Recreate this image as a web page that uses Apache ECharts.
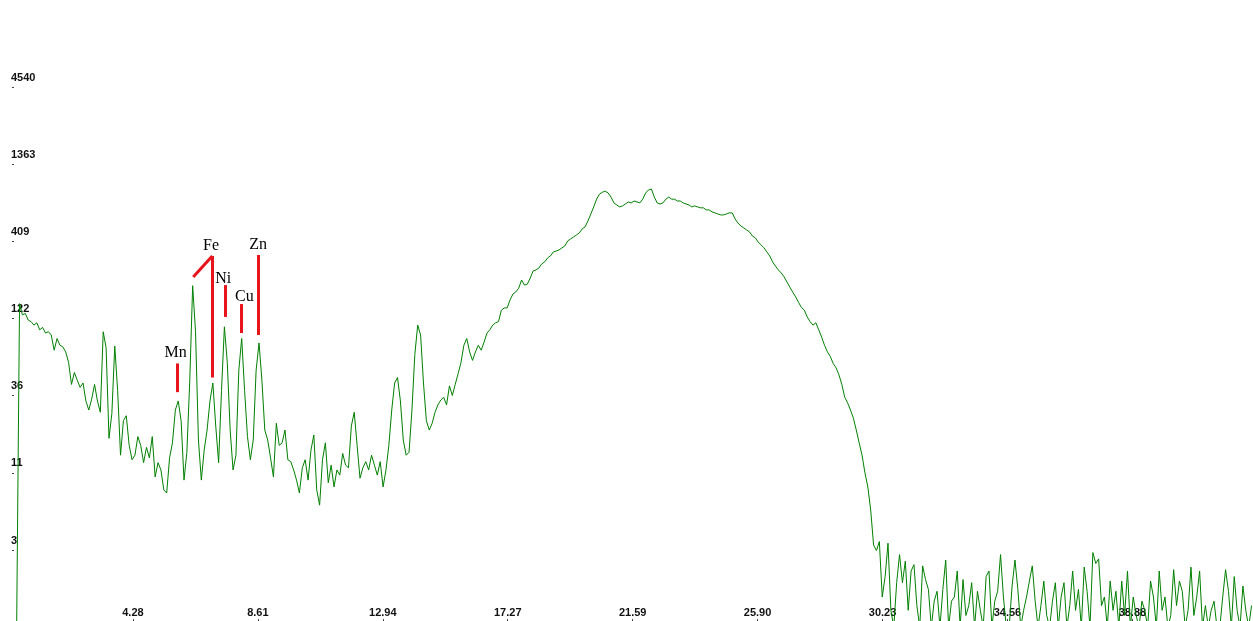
<!DOCTYPE html>
<html>
<head>
<meta charset="utf-8">
<script src="https://cdn.jsdelivr.net/npm/echarts@6/dist/echarts.min.js"></script>
<style>
html,body{margin:0;padding:0;background:#fff;}
#chart{width:1253px;height:621px;}
</style>
</head>
<body>
<div id="chart"></div>
<script>
// Spectrum channels: energy of first channel and channel width (keV)
const ENERGY_START = 0.3;
const ENERGY_STEP = 0.1;

// Counts per channel
const counts = [
1,155,130,133,120,117,111,115,103,107,
98,100,95,75,90,81,79,73,62,44,
53,47,42,45,34,29.5,35,44,34,28.5,
100,78,19,28,80,40,14.6,25,27,17,
13.6,14.6,19.5,17,13,16.5,14,19.5,10.4,13,
11.6,8.5,8.1,14,17.7,29.5,34,25,9.9,15.3,
47,205,100,18.5,9.9,15.8,21.6,34,45,23,
13,40,108,62,21.6,11.6,14.6,55,90,40,
19.5,13.6,18.5,55,84,47,21.6,18.5,14,10.4,
24,17,17.7,21.6,13.6,13.2,11.6,9.9,8.1,12,
13.6,9.9,15.8,20,8.5,6.7,13.6,17.7,9.5,12.5,
8.9,11.6,10.7,15,12.5,12,23,28.5,17,10.2,
12,13.2,11.6,14.6,12.5,10.7,13.2,8.9,11.6,17,
29.5,45,49,34,18.5,14.6,15.3,29.5,70,111,
95,45,25,21.6,24,28.5,32,34.5,36,32,
43,37,44,52,62,81,90,73,64,73,
81,75,85,98,103,111,115,117,140,145,
145,164,180,186,197,224,207,210,231,258,
262,270,288,297,316,326,347,352,358,370,
381,412,425,438,452,466,497,512,562,627,
700,790,855,880,895,870,816,745,722,700,
711,733,757,745,768,757,745,790,870,912,
925,816,745,733,745,790,816,790,790,768,
768,745,733,722,700,711,700,690,690,668,
668,648,638,627,618,618,627,638,638,580,
545,520,505,489,474,445,432,405,387,370,
347,326,297,278,262,250,235,217,200,185,
172,158,146,140,126,117,111,115,103,92,
81,73,68,61,57,51,44,36,33,29.5,
26,21.6,17.7,14.6,11.1,8.9,6.2,3.6,3.3,3.8,
1.6,2.2,3.7,1.3,1,2.0,3.1,2.0,2.8,1.3,
2.4,2.65,1.4,1,2.6,2.1,1.8,1,1.5,1.75,
1,1.8,2.85,1,1.5,1.6,2.4,1,2.1,1.2,
1.4,2.0,1,1.75,1.3,1,2.2,2.4,1,1.5,
1.75,3.1,1.6,1,1,1.9,2.85,1.8,1,1.3,
1.6,2.05,2.6,1.5,1,1.4,2.05,1.2,1,1.5,
2.0,1,1.6,2.0,1,1.4,2.4,1.3,1.8,1,
2.55,1.75,1,3.2,2.7,2.9,1.4,1.6,1,2.05,
1.3,1.75,1,2.05,1.2,2.4,1,1.6,1.2,1,
1.5,1.3,1,2.05,1.6,1,2.4,1.3,1.6,1,
1.2,2.45,1.4,2.05,1.75,1,1.3,2.55,1.2,1.6,
2.4,1,1.4,1,1.3,1.5,1,1,1.6,2.45,
1.75,1,2.2,1.3,1,1.9,1.3,1,1.4
];

// X axis tick labels (keV) and tick spacing
const xTickLabels = ['4.28','8.61','12.94','17.27','21.59','25.90','30.23','34.56','38.88'];
const X_TICK_STEP = 4.33;
const X_MAX = 43.15;

// Y axis: logarithmic, base 3.33, labelled decades 1..7
const LOG_BASE = 3.33;
const yTickPowers = [1, 2, 3, 4, 5, 6, 7];

// Element annotations
const elementNames   = ['Mn','Fe','Ni','Cu','Zn'];
const labelEnergies  = [5.81, 7.04, 7.46, 8.19, 8.67];
const labelCounts    = [72, 381, 228, 172, 387];
const markerEnergies = [5.85, 7.08, 7.53, 8.08, 8.69];
const markerTop      = [61, 326, 207, 154, 331];
const markerBottom   = [39, 49, 126, 98, 95];
const feKaEnergy = 6.42, feKaTop = 235;

const seriesData = counts.map((c, i) => [+(ENERGY_START + i * ENERGY_STEP).toFixed(2), c]);
const xTickValues = xTickLabels.map((_, k) => +((k + 1) * X_TICK_STEP).toFixed(4));
const yTickValues = yTickPowers.map(p => Math.pow(LOG_BASE, p));

const markLines = markerEnergies.map((e, i) => [
  {coord: [e, markerTop[i]]},
  {coord: [e, markerBottom[i]]}
]);
markLines.push([{coord: [feKaEnergy, feKaTop]}, {coord: [markerEnergies[1], markerTop[1]]}]);

const markPoints = elementNames.map((n, i) => ({
  name: n,
  coord: [labelEnergies[i], labelCounts[i]]
}));

const chart = echarts.init(document.getElementById('chart'), null, {renderer: 'canvas'});
chart.setOption({
  animation: false,
  backgroundColor: '#ffffff',
  grid: {left: 8, right: 0, top: 0, bottom: 0, containLabel: false},
  xAxis: {
    type: 'value',
    min: 0,
    max: X_MAX,
    interval: X_TICK_STEP,
    axisLine: {show: false},
    splitLine: {show: false},
    axisTick: {show: true, inside: true, length: 2, customValues: xTickValues, lineStyle: {color: '#444'}},
    axisLabel: {
      inside: true,
      margin: 3,
      color: '#111',
      fontFamily: 'Liberation Sans, Arial, sans-serif',
      fontWeight: 'bold',
      fontSize: 11,
      customValues: xTickValues,
      formatter: v => {
        const k = Math.round(v / X_TICK_STEP) - 1;
        return (k >= 0 && k < xTickLabels.length) ? xTickLabels[k] : '';
      }
    }
  },
  yAxis: {
    type: 'log',
    logBase: LOG_BASE,
    min: Math.pow(LOG_BASE, 0.08),
    max: Math.pow(LOG_BASE, 8.127),
    offset: -4,
    axisLine: {show: false},
    splitLine: {show: false},
    axisTick: {show: true, inside: true, length: 2, customValues: yTickValues, lineStyle: {color: '#444'}},
    axisLabel: {
      inside: true,
      margin: -1,
      verticalAlign: 'bottom',
      padding: [0, 0, 4, 0],
      color: '#111',
      fontFamily: 'Liberation Sans, Arial, sans-serif',
      fontWeight: 'bold',
      fontSize: 11,
      customValues: yTickValues,
      formatter: v => (v < 2 || v > 10000) ? '' : String(Math.floor(v + 1e-6))
    }
  },
  series: [{
    type: 'line',
    data: seriesData,
    symbol: 'none',
    showSymbol: false,
    clip: true,
    lineStyle: {color: '#008000', width: 1},
    itemStyle: {color: '#008000'},
    emphasis: {disabled: true},
    markLine: {
      silent: true,
      symbol: 'none',
      animation: false,
      label: {show: false},
      lineStyle: {color: '#e8141c', width: 3, type: 'solid'},
      emphasis: {disabled: true},
      data: markLines
    },
    markPoint: {
      silent: true,
      symbol: 'circle',
      symbolSize: 1,
      itemStyle: {color: 'rgba(0,0,0,0)'},
      label: {
        show: true,
        position: 'inside',
        formatter: '{b}',
        color: '#000',
        fontFamily: 'Liberation Serif, Times New Roman, serif',
        fontSize: 16
      },
      data: markPoints
    }
  }]
});
</script>
</body>
</html>
